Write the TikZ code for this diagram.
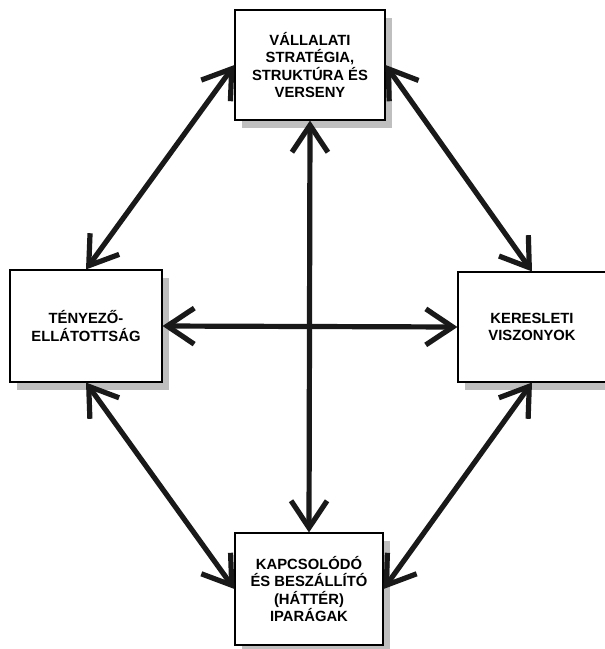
\documentclass[tikz,border=0pt]{standalone}
\usepackage{fontspec}
\setmainfont{Liberation Sans}
\usetikzlibrary{arrows.meta,shadows}
\begin{document}
\begin{tikzpicture}[x=1pt,y=-1pt,
  factor/.style={draw=black, line width=1.1pt, fill=white, rectangle,
    align=center, font=\bfseries\fontsize{14.8}{17.5}\selectfont, inner sep=0pt,
    drop shadow={shadow xshift=7pt, shadow yshift=-8pt, fill=black!25, opacity=1}},
  link/.style={line width=5.2pt, draw=black!90,
    {Straight Barb[length=27pt,width=36pt]}-{Straight Barb[length=27pt,width=36pt]}}
]
\useasboundingbox (0,0) rectangle (605,649);
\node[factor, minimum width=150pt, minimum height=110pt] (strat) at (310,65)
  {VÁLLALATI\\STRATÉGIA,\\STRUKTÚRA ÉS\\VERSENY};
\node[factor, minimum width=152pt, minimum height=112pt] (fact) at (86,326)
  {TÉNYEZŐ-\\ELLÁTOTTSÁG};
\node[factor, minimum width=148pt, minimum height=110pt] (dem) at (532,327)
  {KERESLETI\\VISZONYOK};
\node[factor, minimum width=148pt, minimum height=112pt] (rel) at (309,589)
  {KAPCSOLÓDÓ\\ÉS BESZÁLLÍTÓ\\(HÁTTÉR)\\IPARÁGAK};
\draw[link] (strat.west) -- (fact.north);
\draw[link] (strat.east) -- (dem.north);
\draw[link] (fact.south) -- (rel.west);
\draw[link] (dem.south) -- (rel.east);
\draw[link] (strat.south) -- (rel.north);
\draw[link] (fact.east) -- (dem.west);
\end{tikzpicture}
\end{document}
